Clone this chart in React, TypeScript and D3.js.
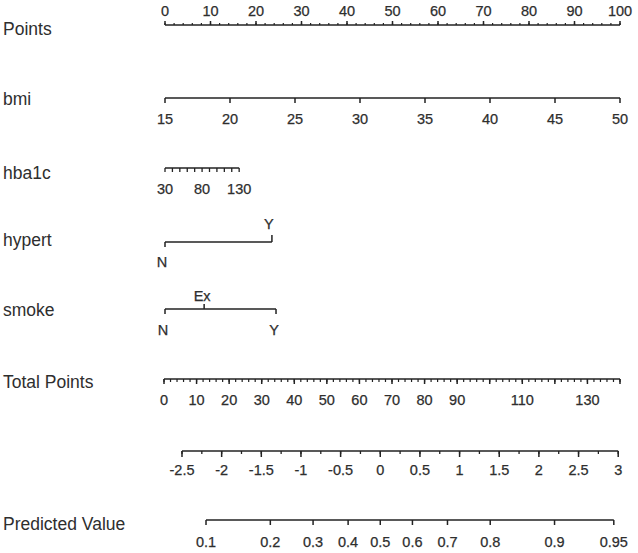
import React from "react";
import * as d3 from "d3";

// ---------- data ----------
const rowLabels = ["Points", "bmi", "hba1c", "hypert", "smoke", "Total Points", "", "Predicted Value"];

const pointsMajor = d3.range(0, 101, 10);
const pointsMinor = d3.range(0, 101, 2);

const bmiValues = [15, 20, 25, 30, 35, 40, 45, 50];
const bmiDomain = [15, 50];
const bmiPointsRange = [0, 100];

const hba1cTicks = d3.range(30, 131, 10);
const hba1cLabels = [30, 80, 130];
const hba1cDomain = [30, 130];
const hba1cPointsRange = [0, 16.3];

const hypertLevels = ["N", "Y"];
const hypertPoints = [0, 23.5];
const hypertSide = ["below", "above"];

const smokeLevels = ["N", "Ex", "Y"];
const smokePoints = [0, 8.6, 24.4];
const smokeSide = ["below", "above", "below"];

const totalMajor = d3.range(0, 141, 10);
const totalMinor = d3.range(0, 141, 2);
const totalLabels = [0, 10, 20, 30, 40, 50, 60, 70, 80, 90, 110, 130];

const lpMajor = [-2.5, -2, -1.5, -1, -0.5, 0, 0.5, 1, 1.5, 2, 2.5, 3];
const lpMinor = d3.range(-2.5, 3.01, 0.25);
const totalAtLp0 = 66.4;
const pointsPerLp = 24.35;

const predValues = [0.1, 0.2, 0.3, 0.4, 0.5, 0.6, 0.7, 0.8, 0.9, 0.95];

// ---------- layout ----------
const W = 638;
const H = 553;
const FONT = "'Liberation Sans', Arial, Helvetica, sans-serif";
const INK = "#222";
const TXT = "#2e2e2e";

export default function App() {
  const xPts = d3.scaleLinear().domain([0, 100]).range([165, 620]);
  const xTot = d3.scaleLinear().domain([0, 140]).range([164, 620]);
  const bmiToPts = d3.scaleLinear().domain(bmiDomain).range(bmiPointsRange);
  const hbToPts = d3.scaleLinear().domain(hba1cDomain).range(hba1cPointsRange);
  const lpX = (lp: number) => xTot(totalAtLp0 + pointsPerLp * lp);
  const logit = (p: number) => Math.log(p / (1 - p));
  const fmt = (v: number) => String(+v.toFixed(2));

  const rowY = [35, 105, 179, 246, 316, 388, 0, 530];

  const line = (x1: number, x2: number, y: number, key: string) => (
    <line key={key} x1={x1} x2={x2} y1={y} y2={y} stroke={INK} strokeWidth={1.6} />
  );
  const tick = (x: number, y: number, len: number, key: string, w = 1.5) => (
    <line key={key} x1={x} x2={x} y1={y} y2={y + len} stroke={INK} strokeWidth={w} />
  );
  const label = (x: number, y: number, t: string, key: string) => (
    <text key={key} x={x} y={y} textAnchor="middle" fontSize={14.5} fill={TXT} fontFamily={FONT}
      stroke={TXT} strokeWidth={0.25}>
      {t}
    </text>
  );

  const els: any[] = [];

  // Points
  {
    const y = 25;
    els.push(line(xPts(0), xPts(100), y, "p-l"));
    pointsMinor.forEach((v) => els.push(tick(xPts(v), y, -2, "p-mi" + v, 1.2)));
    pointsMajor.forEach((v) => els.push(tick(xPts(v), y, -4, "p-ma" + v)));
    pointsMajor.forEach((v) => els.push(label(xPts(v), 16, String(v), "p-t" + v)));
  }
  // bmi
  {
    const y = 98;
    els.push(line(xPts(bmiToPts(15)), xPts(bmiToPts(50)), y, "b-l"));
    bmiValues.forEach((v) => {
      els.push(tick(xPts(bmiToPts(v)), y, 5, "b-k" + v));
      els.push(label(xPts(bmiToPts(v)), 124, String(v), "b-t" + v));
    });
  }
  // hba1c
  {
    const y = 168;
    els.push(line(xPts(hbToPts(30)), xPts(hbToPts(130)), y, "h-l"));
    hba1cTicks.forEach((v) => els.push(tick(xPts(hbToPts(v)), y, 4, "h-k" + v, 1.3)));
    hba1cLabels.forEach((v) => els.push(label(xPts(hbToPts(v)), 194, String(v), "h-t" + v)));
  }
  // hypert
  {
    const y = 242;
    const xs = hypertPoints.map((p) => xPts(p));
    els.push(line(xs[0], xs[xs.length - 1], y, "hy-l"));
    hypertLevels.forEach((lv, i) => {
      const up = hypertSide[i] === "above";
      els.push(tick(xs[i], y, up ? -7 : 5, "hy-k" + i));
      els.push(label(xs[i] - 3, up ? 229 : 267, lv, "hy-t" + i));
    });
  }
  // smoke
  {
    const y = 309;
    const xs = smokePoints.map((p) => xPts(p));
    els.push(line(xs[0], xs[xs.length - 1], y, "s-l"));
    smokeLevels.forEach((lv, i) => {
      const up = smokeSide[i] === "above";
      els.push(tick(xs[i], y, up ? -5 : 5, "s-k" + i));
      els.push(label(xs[i] - 2, up ? 301 : 335, lv, "s-t" + i));
    });
  }
  // Total points
  {
    const y = 379;
    els.push(line(xTot(0), xTot(140), y, "t-l"));
    totalMinor.forEach((v) => els.push(tick(xTot(v), y, 3, "t-mi" + v, 1.2)));
    totalMajor.forEach((v) => els.push(tick(xTot(v), y, 5, "t-ma" + v)));
    totalLabels.forEach((v) => els.push(label(xTot(v), 405, String(v), "t-t" + v)));
  }
  // Linear predictor
  {
    const y = 451;
    els.push(line(lpX(-2.5), lpX(3), y, "lp-l"));
    lpMinor.forEach((v) => els.push(tick(lpX(v), y, 3, "lp-mi" + v.toFixed(2), 1.3)));
    lpMajor.forEach((v) => els.push(tick(lpX(v), y, 6, "lp-ma" + v)));
    lpMajor.forEach((v) => els.push(label(lpX(v), 475, fmt(v), "lp-t" + v)));
  }
  // Predicted value
  {
    const y = 520;
    els.push(line(lpX(logit(0.1)), lpX(logit(0.95)), y, "pv-l"));
    predValues.forEach((v) => {
      els.push(tick(lpX(logit(v)), y, 5, "pv-k" + v));
      els.push(label(lpX(logit(v)), 547, fmt(v), "pv-t" + v));
    });
  }

  return (
    <div style={{ position: "fixed", left: 0, top: 0 }}>
      <svg width={W} height={H} style={{ display: "block", background: "#fff" }}>
        {rowLabels.map((t, i) =>
          t ? (
            <text key={"r" + i} x={3} y={rowY[i]} fontSize={17.5} fill={TXT} fontFamily={FONT}>
              {t}
            </text>
          ) : null
        )}
        {els}
      </svg>
    </div>
  );
}
